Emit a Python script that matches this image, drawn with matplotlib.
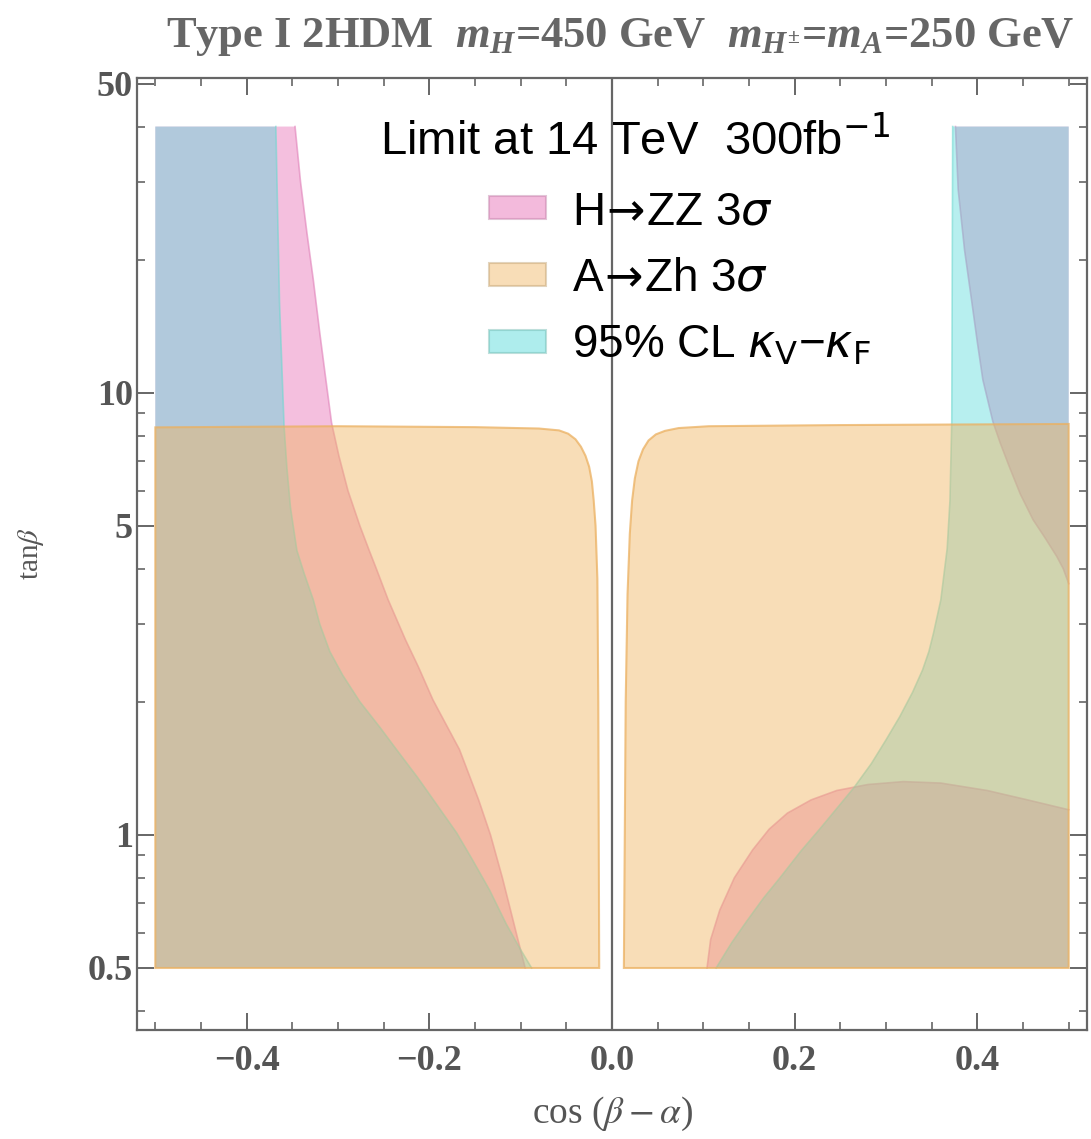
import matplotlib
matplotlib.use("Agg")
import matplotlib.pyplot as plt
from matplotlib.patches import Patch
from matplotlib.font_manager import FontProperties
from matplotlib.ticker import FixedLocator, FixedFormatter

plt.rcParams['mathtext.fontset'] = 'custom'
plt.rcParams['mathtext.rm'] = 'Liberation Serif:bold'
plt.rcParams['mathtext.it'] = 'Liberation Serif:italic:bold'
plt.rcParams['mathtext.bf'] = 'Liberation Serif:bold'

# ---------------- data ----------------
CBA_MIN, CBA_MAX = -0.5, 0.5
TANB_MIN, TANB_MAX = 0.5, 40.0

# H -> ZZ 3 sigma : left region (cos(b-a) < boundary)
hzz_left_tanb = [0.5, 0.58, 0.65, 0.8, 1.0, 1.2, 1.56, 2.02, 2.4, 2.76, 3.4, 4.0, 4.41, 5.0, 6.0,
                 7.2, 8.55, 11.0, 13.7, 18.0, 23.0, 30.0, 40.0]
hzz_left_cba = [-0.095, -0.103, -0.109, -0.120, -0.133, -0.146, -0.167, -0.196, -0.212, -0.226, -0.245,
                -0.258, -0.266, -0.276, -0.289, -0.299, -0.307, -0.314, -0.320, -0.327, -0.334, -0.341, -0.347]
# H -> ZZ : upper right region (cos(b-a) > boundary)
hzz_rtop_tanb = [3.7, 4.0, 4.26, 4.7, 5.16, 5.9, 6.8, 7.7, 8.6, 10.7, 13.0, 16.0, 21.0, 28.8, 40.0]
hzz_rtop_cba = [0.5, 0.494, 0.487, 0.474, 0.461, 0.447, 0.435, 0.425, 0.417, 0.406, 0.400, 0.394,
                0.386, 0.379, 0.376]
# H -> ZZ : lower right dome (tanb < boundary)
hzz_dome_cba = [0.104, 0.108, 0.118, 0.134, 0.154, 0.172, 0.192, 0.218, 0.246, 0.28, 0.319, 0.36,
                0.411, 0.455, 0.5]
hzz_dome_tanb = [0.5, 0.58, 0.676, 0.80, 0.925, 1.03, 1.12, 1.20, 1.26, 1.30, 1.32, 1.31, 1.26, 1.20, 1.14]

# A -> Zh 3 sigma : closed outlines
azh_left_cba = [-0.5, -0.5, -0.30, -0.15, -0.08, -0.058, -0.048, -0.040, -0.034, -0.029, -0.025,
                -0.022, -0.020, -0.018, -0.016, -0.015, -0.014]
azh_left_tanb = [0.5, 8.35, 8.40, 8.36, 8.30, 8.22, 8.08, 7.85, 7.55, 7.2, 6.8, 6.3, 5.7, 5.0, 3.8, 2.0, 0.5]
azh_right_cba = [0.013, 0.015, 0.017, 0.0195, 0.022, 0.025, 0.029, 0.034, 0.040, 0.048, 0.058, 0.073,
                 0.106, 0.25, 0.5, 0.5]
azh_right_tanb = [0.5, 2.0, 3.5, 4.8, 5.7, 6.4, 7.0, 7.45, 7.8, 8.05, 8.2, 8.32, 8.4, 8.45, 8.5, 0.5]

# 95% CL kappa_V - kappa_F
kap_left_tanb = [0.5, 0.55, 0.63, 0.75, 0.88, 1.01, 1.18, 1.35, 1.56, 1.75, 2.0, 2.3, 2.6, 3.0, 3.4,
                 3.9, 4.4, 5.5, 6.8, 8.4, 16.0, 40.0]
kap_left_cba = [-0.088, -0.100, -0.116, -0.134, -0.153, -0.170, -0.193, -0.213, -0.236, -0.254, -0.276,
                -0.295, -0.309, -0.320, -0.327, -0.337, -0.345, -0.352, -0.356, -0.359, -0.364, -0.368]
kap_right_tanb = [0.5, 0.57, 0.64, 0.72, 0.80, 0.92, 1.04, 1.16, 1.28, 1.45, 1.64, 1.85, 2.10, 2.36,
                  2.6, 2.86, 3.4, 4.45, 5.7, 8.6, 40.0]
kap_right_cba = [0.114, 0.131, 0.148, 0.166, 0.184, 0.207, 0.229, 0.248, 0.265, 0.284, 0.300, 0.315,
                 0.329, 0.340, 0.347, 0.352, 0.360, 0.367, 0.370, 0.372, 0.373]

legend_labels = ['H$\\!\\rightarrow\\!$ZZ 3$\\sigma$', 'A$\\!\\rightarrow\\!$Zh 3$\\sigma$',
                 '95% CL $\\kappa_{\\mathrm{V}}$\u2212$\\kappa_{\\mathrm{F}}$']
legend_title = 'Limit at 14 TeV  300fb$^{-1}$'
title = 'Type I 2HDM  $m_H$=450 GeV  $m_{H^{\\pm}}$=$m_A$=250 GeV'

x_major = [-0.4, -0.2, 0.0, 0.2, 0.4]
x_major_labels = ['\u22120.4', '\u22120.2', '0.0', '0.2', '0.4']
x_minor = [-0.5, -0.45, -0.35, -0.3, -0.25, -0.15, -0.1, -0.05, 0.05, 0.1, 0.15, 0.25, 0.3, 0.35, 0.45, 0.5]
y_major = [0.5, 1, 5, 10, 50]
y_major_labels = ['0.5', '1', '5', '10', '50']
y_minor = [0.4, 0.6, 0.7, 0.8, 0.9, 2, 3, 4, 6, 7, 8, 9, 20, 30, 40]

# ---------------- style ----------------
PINK = '#E667B2'
CYAN = '#4DD9D9'
ORANGE = '#F0B561'
PINK_E = '#E080B8'
CYAN_E = '#70D8D0'
ORANGE_E = '#EBB060'
A_PINK, A_CYAN, A_ORANGE = 0.42, 0.40, 0.45
GRAY = '#555555'

fig = plt.figure(figsize=(10.91, 11.39), dpi=100)
ax = fig.add_axes([0.1256, 0.0957, 0.8707, 0.8358])
ax.set_yscale('log')
ax.set_xlim(-0.52, 0.52)
ax.set_ylim(0.362, 51.5)

# pink (H->ZZ)
ax.fill_betweenx(hzz_left_tanb, CBA_MIN, hzz_left_cba, facecolor=PINK, alpha=A_PINK, lw=0, zorder=1)
ax.plot(hzz_left_cba, hzz_left_tanb, color=PINK_E, lw=1.2, alpha=0.6, zorder=1.1)
ax.fill_betweenx(hzz_rtop_tanb, hzz_rtop_cba, CBA_MAX, facecolor=PINK, alpha=A_PINK, lw=0, zorder=1)
ax.plot(hzz_rtop_cba, hzz_rtop_tanb, color=PINK_E, lw=1.2, alpha=0.6, zorder=1.1)
ax.fill_between(hzz_dome_cba, TANB_MIN, hzz_dome_tanb, facecolor=PINK, alpha=A_PINK, lw=0, zorder=1)
ax.plot(hzz_dome_cba, hzz_dome_tanb, color=PINK_E, lw=1.2, alpha=0.6, zorder=1.1)

# cyan (kappa)
ax.fill_betweenx(kap_left_tanb, CBA_MIN, kap_left_cba, facecolor=CYAN, alpha=A_CYAN, lw=0, zorder=2)
ax.plot(kap_left_cba, kap_left_tanb, color=CYAN_E, lw=1.2, alpha=0.6, zorder=2.1)
ax.fill_betweenx(kap_right_tanb, kap_right_cba, CBA_MAX, facecolor=CYAN, alpha=A_CYAN, lw=0, zorder=2)
ax.plot(kap_right_cba, kap_right_tanb, color=CYAN_E, lw=1.2, alpha=0.6, zorder=2.1)

# orange (A->Zh)
ax.fill(azh_left_cba, azh_left_tanb, facecolor=ORANGE, alpha=A_ORANGE, edgecolor='none', zorder=3)
ax.fill(azh_left_cba, azh_left_tanb, facecolor='none', edgecolor=ORANGE_E, lw=1.5, alpha=0.75, zorder=3.1)
ax.fill(azh_right_cba, azh_right_tanb, facecolor=ORANGE, alpha=A_ORANGE, edgecolor='none', zorder=3)
ax.fill(azh_right_cba, azh_right_tanb, facecolor='none', edgecolor=ORANGE_E, lw=1.5, alpha=0.75, zorder=3.1)

# zero axis line
ax.axvline(0.0, color='#666666', lw=1.6, zorder=6)

# ticks
ax.xaxis.set_major_locator(FixedLocator(x_major))
ax.xaxis.set_major_formatter(FixedFormatter(x_major_labels))
ax.xaxis.set_minor_locator(FixedLocator(x_minor))
ax.yaxis.set_major_locator(FixedLocator(y_major))
ax.yaxis.set_major_formatter(FixedFormatter(y_major_labels))
ax.yaxis.set_minor_locator(FixedLocator(y_minor))
ax.yaxis.set_minor_formatter(FixedFormatter([''] * len(y_minor)))
ax.tick_params(which='both', direction='in', top=True, right=True, color='#666666')
ax.tick_params(which='major', length=12, width=1.4, labelsize=26, labelcolor=GRAY)
ax.tick_params(axis='x', which='major', pad=11)
ax.tick_params(axis='y', which='major', pad=3)
ax.tick_params(which='minor', length=6, width=1.2)
for lab in ax.get_xticklabels() + ax.get_yticklabels():
    lab.set_fontfamily('Liberation Serif')
    lab.set_fontweight('bold')
for sp in ax.spines.values():
    sp.set_color('#666666')
    sp.set_linewidth(1.6)

ax.set_xlabel('cos ($\\beta - \\alpha$)', fontfamily='Liberation Serif', fontsize=27,
              color=GRAY, math_fontfamily='stix', labelpad=12)
ax.set_ylabel('tan$\\beta$', fontfamily='Liberation Serif', fontsize=21,
              color=GRAY, math_fontfamily='stix', labelpad=30)

fig.text(0.569, 0.9587, title, ha='center', va='baseline', fontfamily='Liberation Serif',
         fontweight='bold', fontsize=32, color='#666666')

# legend
handles = [Patch(facecolor=c, alpha=0.45, edgecolor=e, lw=1.5) for c, e in
           [(PINK, '#C080A8'), (ORANGE, '#C0A070'), (CYAN, '#70B8B0')]]
fp = FontProperties(family='Liberation Sans', size=33, math_fontfamily='dejavusans')
leg = ax.legend(handles, legend_labels, loc='upper left', bbox_to_anchor=(489 / 1091, 1 - 190 / 1139),
                bbox_transform=fig.transFigure, frameon=False, prop=fp, borderpad=0, borderaxespad=0,
                handlelength=1.24, handleheight=0.38, handletextpad=0.58, labelspacing=0.5)
leg.set_zorder(7)
fig.text(380 / 1091, 1 - 155 / 1139, legend_title, ha='left', va='baseline',
         fontproperties=FontProperties(family='Liberation Sans', size=34, math_fontfamily='dejavusans'),
         color='black')

fig.savefig('out.png', dpi=100)
